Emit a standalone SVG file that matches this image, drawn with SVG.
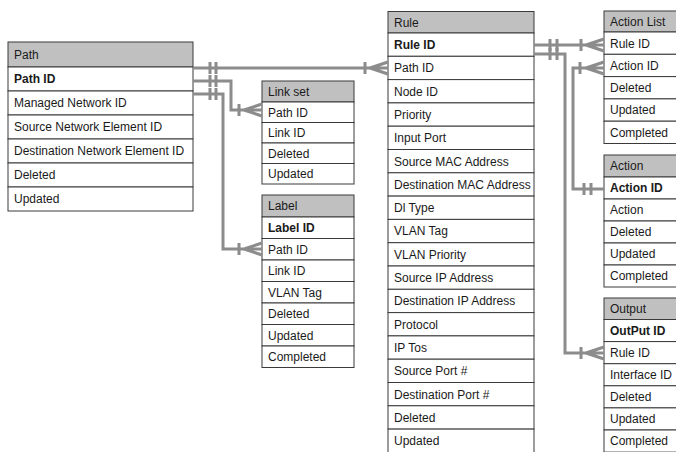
<svg xmlns="http://www.w3.org/2000/svg" width="676" height="452" viewBox="0 0 676 452">
<style>
.hd{fill:#c0c0c0;stroke:#3a3a3a;stroke-width:1}
.rw{fill:#ffffff;stroke:#3a3a3a;stroke-width:1}
text{font-family:"Liberation Sans",Arial,Helvetica,sans-serif;font-size:12px;fill:#1a1a1a}
.b{font-weight:bold}
.cn{fill:none;stroke:#8c8c8c;stroke-width:3}
</style>
<rect width="676" height="452" fill="#ffffff"/>
<g id="path">
<rect class="hd" x="8" y="42" width="185" height="25"/>
<text x="14" y="59">Path</text>
<rect class="rw" x="8" y="67" width="185" height="24"/><text class="b" x="14" y="83">Path ID</text>
<rect class="rw" x="8" y="91" width="185" height="24"/><text x="14" y="107">Managed Network ID</text>
<rect class="rw" x="8" y="115" width="185" height="24"/><text x="14" y="131">Source Network Element ID</text>
<rect class="rw" x="8" y="139" width="185" height="24"/><text x="14" y="155">Destination Network Element ID</text>
<rect class="rw" x="8" y="163" width="185" height="24"/><text x="14" y="179">Deleted</text>
<rect class="rw" x="8" y="187" width="185" height="24"/><text x="14" y="203">Updated</text>
</g>
<g id="linkset">
<rect class="hd" x="262" y="81" width="92" height="21"/>
<text x="268" y="96">Link set</text>
<rect class="rw" x="262" y="102" width="92" height="20.5"/><text x="268" y="116.5">Path ID</text>
<rect class="rw" x="262" y="122.5" width="92" height="20.5"/><text x="268" y="137">Link ID</text>
<rect class="rw" x="262" y="143" width="92" height="20.5"/><text x="268" y="157.5">Deleted</text>
<rect class="rw" x="262" y="163.5" width="92" height="20.5"/><text x="268" y="178">Updated</text>
</g>
<g id="label">
<rect class="hd" x="262" y="195" width="92" height="22"/>
<text x="268" y="210">Label</text>
<rect class="rw" x="262" y="217" width="92" height="21.5"/><text class="b" x="268" y="232">Label ID</text>
<rect class="rw" x="262" y="238.5" width="92" height="21.5"/><text x="268" y="253.5">Path ID</text>
<rect class="rw" x="262" y="260" width="92" height="21.5"/><text x="268" y="275">Link ID</text>
<rect class="rw" x="262" y="281.5" width="92" height="21.5"/><text x="268" y="296.5">VLAN Tag</text>
<rect class="rw" x="262" y="303" width="92" height="21.5"/><text x="268" y="318">Deleted</text>
<rect class="rw" x="262" y="324.5" width="92" height="21.5"/><text x="268" y="339.5">Updated</text>
<rect class="rw" x="262" y="346" width="92" height="21.5"/><text x="268" y="361">Completed</text>
</g>
<g id="rule">
<rect class="hd" x="388" y="11.5" width="146" height="21.5"/>
<text x="394" y="26.5">Rule</text>
<rect class="rw" x="388" y="33" width="146" height="23.3"/><text class="b" x="394" y="49">Rule ID</text>
<rect class="rw" x="388" y="56.3" width="146" height="23.3"/><text x="394" y="72.3">Path ID</text>
<rect class="rw" x="388" y="79.6" width="146" height="23.3"/><text x="394" y="95.6">Node ID</text>
<rect class="rw" x="388" y="102.9" width="146" height="23.3"/><text x="394" y="118.9">Priority</text>
<rect class="rw" x="388" y="126.2" width="146" height="23.3"/><text x="394" y="142.2">Input Port</text>
<rect class="rw" x="388" y="149.5" width="146" height="23.3"/><text x="394" y="165.5">Source MAC Address</text>
<rect class="rw" x="388" y="172.8" width="146" height="23.3"/><text x="394" y="188.8">Destination MAC Address</text>
<rect class="rw" x="388" y="196.1" width="146" height="23.3"/><text x="394" y="212.1">Dl Type</text>
<rect class="rw" x="388" y="219.4" width="146" height="23.3"/><text x="394" y="235.4">VLAN Tag</text>
<rect class="rw" x="388" y="242.7" width="146" height="23.3"/><text x="394" y="258.7">VLAN Priority</text>
<rect class="rw" x="388" y="266" width="146" height="23.3"/><text x="394" y="282">Source IP Address</text>
<rect class="rw" x="388" y="289.3" width="146" height="23.3"/><text x="394" y="305.3">Destination IP Address</text>
<rect class="rw" x="388" y="312.6" width="146" height="23.3"/><text x="394" y="328.6">Protocol</text>
<rect class="rw" x="388" y="335.9" width="146" height="23.3"/><text x="394" y="351.9">IP Tos</text>
<rect class="rw" x="388" y="359.2" width="146" height="23.3"/><text x="394" y="375.2">Source Port #</text>
<rect class="rw" x="388" y="382.5" width="146" height="23.3"/><text x="394" y="398.5">Destination Port #</text>
<rect class="rw" x="388" y="405.8" width="146" height="23.3"/><text x="394" y="421.8">Deleted</text>
<rect class="rw" x="388" y="429.1" width="146" height="25"/><text x="394" y="445.1">Updated</text>
</g>
<g id="actionlist">
<rect class="hd" x="604" y="11" width="90" height="21"/>
<text x="610" y="26">Action List</text>
<rect class="rw" x="604" y="32" width="90" height="22.3"/><text x="610" y="47.5">Rule ID</text>
<rect class="rw" x="604" y="54.3" width="90" height="22.3"/><text x="610" y="69.8">Action ID</text>
<rect class="rw" x="604" y="76.6" width="90" height="22.3"/><text x="610" y="92">Deleted</text>
<rect class="rw" x="604" y="98.9" width="90" height="22.3"/><text x="610" y="114.3">Updated</text>
<rect class="rw" x="604" y="121.2" width="90" height="22.3"/><text x="610" y="136.6">Completed</text>
</g>
<g id="action">
<rect class="hd" x="604" y="155" width="90" height="22"/>
<text x="610" y="170">Action</text>
<rect class="rw" x="604" y="177" width="90" height="22"/><text class="b" x="610" y="192">Action ID</text>
<rect class="rw" x="604" y="199" width="90" height="22"/><text x="610" y="214">Action</text>
<rect class="rw" x="604" y="221" width="90" height="22"/><text x="610" y="236">Deleted</text>
<rect class="rw" x="604" y="243" width="90" height="22"/><text x="610" y="258">Updated</text>
<rect class="rw" x="604" y="265" width="90" height="22"/><text x="610" y="280">Completed</text>
</g>
<g id="output">
<rect class="hd" x="604" y="298" width="90" height="21.5"/>
<text x="610" y="313">Output</text>
<rect class="rw" x="604" y="319.5" width="90" height="22.1"/><text class="b" x="610" y="334.7">OutPut ID</text>
<rect class="rw" x="604" y="341.6" width="90" height="22.1"/><text x="610" y="356.8">Rule ID</text>
<rect class="rw" x="604" y="363.7" width="90" height="22.1"/><text x="610" y="378.9">Interface ID</text>
<rect class="rw" x="604" y="385.8" width="90" height="22.1"/><text x="610" y="401">Deleted</text>
<rect class="rw" x="604" y="407.9" width="90" height="22.1"/><text x="610" y="423.1">Updated</text>
<rect class="rw" x="604" y="430" width="90" height="22.1"/><text x="610" y="445.2">Completed</text>
</g>
<g id="connectors" class="cn">
<path class="cn" d="M193,68 H388 M210,62 V74 M216,62 V74 M365,62 V74 M370,68 L388,62 M370,68 L388,74"/>
<path class="cn" d="M193,81 H231 V110 H262 M210,75 V87 M216,75 V87 M239,104 V116 M244,110 L262,104 M244,110 L262,116"/>
<path class="cn" d="M193,94 H223 V249 H262 M210,88 V100 M216,88 V100 M239,243 V255 M244,249 L262,243 M244,249 L262,255"/>
<path class="cn" d="M534,45 H604 M550,39 V51 M557,39 V51 M581,39 V51 M586,45 L604,39 M586,45 L604,51"/>
<path class="cn" d="M534,54 H565 V353 H604 M550,48 V60 M557,48 V60 M581,347 V359 M586,353 L604,347 M586,353 L604,359"/>
<path class="cn" d="M604,68 H573 V189 H604 M580,62 V74 M586,68 L604,62 M586,68 L604,74 M584,183 V195 M591,183 V195"/>
</g>
</svg>
